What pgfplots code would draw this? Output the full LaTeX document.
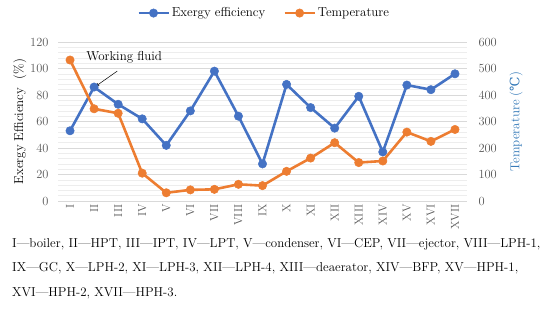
\documentclass[border=0pt]{standalone}
\usepackage{fontspec}
\newfontfamily\dvs{DejaVu Serif}
\usepackage{pgfplots}
\pgfplotsset{compat=1.18}
\usetikzlibrary{arrows.meta}
\definecolor{exblue}{HTML}{4472C4}
\definecolor{temporange}{HTML}{ED7D31}
\definecolor{tickgray}{HTML}{595959}
\definecolor{labelblue}{HTML}{2E75B6}
\definecolor{majgrid}{HTML}{D9D9D9}
\definecolor{mingrid}{HTML}{EDEDED}
\begin{document}
\begin{tikzpicture}[x=1bp,y=1bp]
\useasboundingbox (0,0) rectangle (550,322);
\begin{axis}[
  at={(58bp,121bp)}, anchor=south west,
  scale only axis, width=409bp, height=159bp,
  xmin=0.5, xmax=17.5, ymin=0, ymax=120,
  xtick={1,...,17},
  xticklabels={I,II,III,IV,V,VI,VII,VIII,IX,X,XI,XII,XIII,XIV,XV,XVI,XVII},
  x tick label style={rotate=90, anchor=east, font=\fontsize{11.5}{11.5}\selectfont, text=tickgray},
  ytick={0,20,...,120}, minor y tick num=4,
  ymajorgrids, yminorgrids,
  major grid style={draw=majgrid, line width=0.9pt},
  minor grid style={draw=mingrid, line width=0.6pt},
  axis x line*=bottom, axis y line*=left,
  x axis line style={-, draw=majgrid, line width=0.9pt},
  y axis line style={draw=none},
  tick style={draw=none},
  /pgf/number format/assume math mode=true,
  y tick label style={font=\fontsize{12.5}{12.5}\selectfont, text=tickgray, xshift=-6bp},
  ylabel={Exergy Efficiency\ \ (\%)},
  ylabel style={at={(axis description cs:-0.093,0.5)}, anchor=center, font=\fontsize{13}{13}\selectfont},
  clip=false,
  legend columns=2,
  legend style={at={(axis description cs:0.504,1.182)}, anchor=center, draw=none,
    font=\fontsize{13}{13}\selectfont, /tikz/every even column/.append style={column sep=16bp}},
  legend image code/.code={\draw[mark repeat=2,mark phase=2] plot coordinates {(0bp,0bp) (15bp,0bp) (30bp,0bp)};},
]
\addplot[exblue, line width=2.6pt, mark=*, mark size=4.2bp, mark options={fill=exblue, draw=exblue, line width=0.5pt}]
 coordinates {(1,53) (2,86) (3,73) (4,62) (5,42) (6,68) (7,98) (8,64) (9,28) (10,88) (11,70.5) (12,55) (13,79) (14,37) (15,87.5) (16,84) (17,96)};
\addlegendentry{Exergy efficiency}
\addlegendimage{temporange, line width=2.6pt, mark=*, mark size=4.2bp, mark options={fill=temporange, draw=temporange, line width=0.5pt}}
\addlegendentry{Temperature}
\draw[-{Stealth[length=4bp,width=3bp]}, line width=0.5pt] (axis cs:2.96,98) -- (axis cs:2.06,86.5);
\node[font=\fontsize{13}{13}\selectfont, anchor=center] at (axis cs:3.25,108.5) {Working fluid};
\end{axis}
\begin{axis}[
  at={(58bp,121bp)}, anchor=south west,
  scale only axis, width=409bp, height=159bp,
  xmin=0.5, xmax=17.5, ymin=0, ymax=600,
  axis x line=none, axis y line*=right,
  y axis line style={draw=none},
  tick style={draw=none},
  ytick={0,100,...,600},
  /pgf/number format/assume math mode=true,
  y tick label style={font=\fontsize{12.5}{12.5}\selectfont, text=tickgray, xshift=8bp},
  ylabel={Temperature ({\dvs ℃})},
  ylabel style={at={(axis description cs:1.12,0.5)}, anchor=center, text=labelblue, font=\fontsize{13}{13}\selectfont},
  clip=false,
]
\addplot[temporange, line width=2.6pt, mark=*, mark size=4.2bp, mark options={fill=temporange, draw=temporange, line width=0.5pt}]
 coordinates {(1,532) (2,348) (3,331) (4,105) (5,31) (6,42) (7,44) (8,63) (9,58) (10,112) (11,162) (12,220) (13,145) (14,151) (15,260) (16,225) (17,270)};
\end{axis}
\node[anchor=base west, align=left, inner sep=0pt, font=\fontsize{13}{24.5}\selectfont] at (12,26)
 {I—boiler, II—HPT, III—IPT, IV—LPT, V—condenser, VI—CEP, VII—ejector, VIII—LPH-1,\\
  IX—GC, X—LPH-2, XI—LPH-3, XII—LPH-4, XIII—deaerator, XIV—BFP, XV—HPH-1,\\
  XVI—HPH-2, XVII—HPH-3.};
\end{tikzpicture}
\end{document}
